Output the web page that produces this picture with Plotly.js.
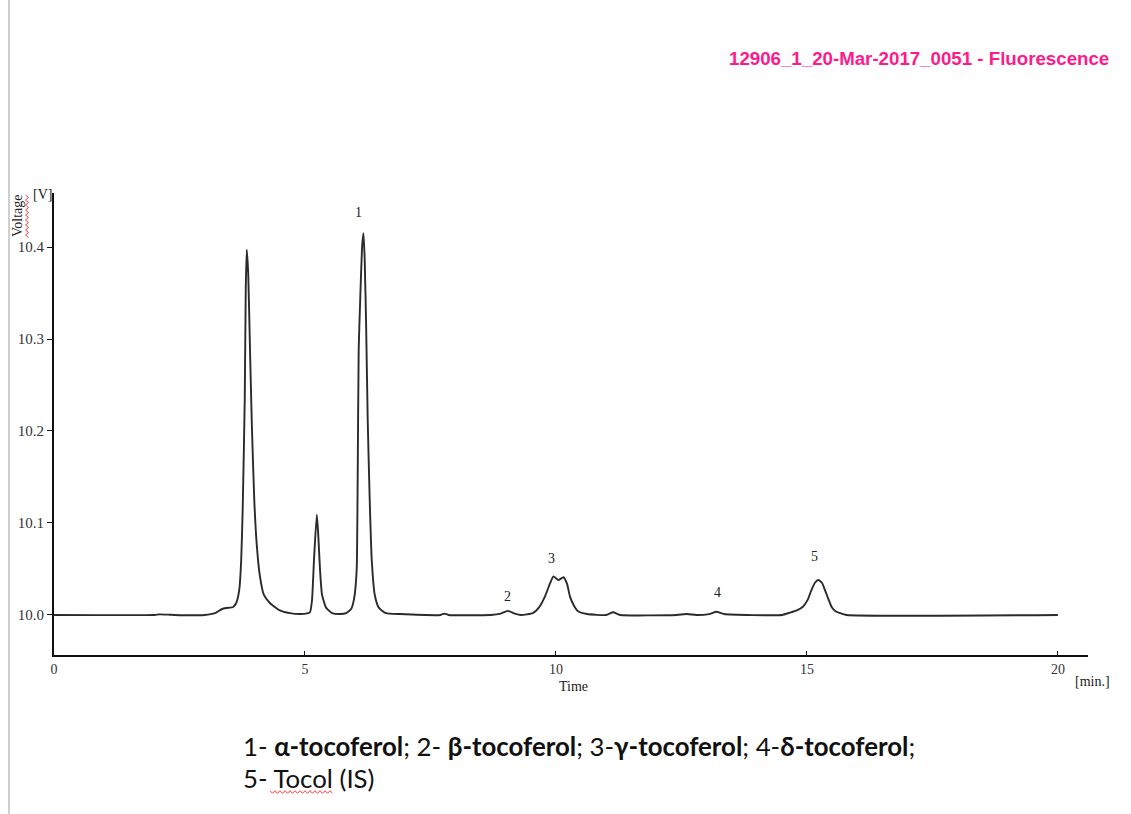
<!DOCTYPE html>
<html>
<head>
<meta charset="utf-8">
<script src="https://cdn.plot.ly/plotly-3.0.1.min.js"></script>
<style>
  html, body { margin: 0; padding: 0; background: #fff; }
  #chart { width: 1131px; height: 814px; }
</style>
</head>
<body>
<div id="chart"></div>
<script>
// ---- data ----
const timeMin = [
  0, 2.0, 2.1, 2.3, 2.4, 3.0, 3.21, 3.35, 3.43, 3.57, 3.63, 3.69, 3.73, 3.76, 3.80, 3.82,
  3.84, 3.87, 3.90, 3.94, 3.99, 4.04, 4.10, 4.18, 4.30, 4.50, 4.70, 4.90, 5.06,
  5.10, 5.14, 5.18, 5.235, 5.26, 5.30, 5.34, 5.42, 5.54, 5.70,
  5.82, 5.92, 5.98, 6.03, 6.05, 6.07, 6.10, 6.14, 6.165, 6.19, 6.22, 6.25, 6.29, 6.33, 6.39,
  6.47, 6.61, 6.89, 7.7, 7.78, 7.86, 8.7, 8.9, 9.04, 9.18, 9.3,
  9.54, 9.66, 9.78, 9.88, 9.95, 10.05, 10.15, 10.22, 10.28, 10.36, 10.44, 10.62,
  11.0, 11.14, 11.28, 12.4, 12.6, 12.8, 13.05, 13.2, 13.35,
  14.5, 14.66, 14.8, 14.92, 15.02, 15.09, 15.16, 15.23, 15.30, 15.36, 15.43, 15.49, 15.57,
  15.66, 15.79, 20.0
];
const voltage = [
  10.000, 10.000, 10.0007, 10.0003, 10.000, 10.000, 10.002, 10.0065, 10.0076, 10.0087, 10.013, 10.027, 10.060, 10.117, 10.234, 10.353,
  10.397, 10.370, 10.300, 10.210, 10.125, 10.076, 10.043, 10.022, 10.013, 10.005, 10.002, 10.001, 10.002,
  10.003, 10.016, 10.060, 10.109, 10.092, 10.049, 10.022, 10.008, 10.002, 10.001,
  10.002, 10.0065, 10.018, 10.049, 10.147, 10.288, 10.342, 10.402, 10.415, 10.386, 10.310, 10.212, 10.125, 10.060, 10.022,
  10.008, 10.002, 10.001, 10.000, 10.0015, 10.000, 10.000, 10.0015, 10.0045, 10.0015, 10.000,
  10.002, 10.008, 10.020, 10.034, 10.042, 10.038, 10.041, 10.034, 10.020, 10.010, 10.004, 10.001,
  10.000, 10.003, 10.000, 10.000, 10.001, 10.000, 10.001, 10.0035, 10.001,
  10.000, 10.0025, 10.005, 10.009, 10.017, 10.027, 10.035, 10.038, 10.035, 10.027, 10.017, 10.009, 10.004,
  10.002, 10.000, 10.000
];
const peakLabels = ["1", "2", "3", "4", "5"];
const peakLabelTimes = [6.06, 9.04, 9.92, 13.21, 15.16];
const peakLabelVoltages = [10.438, 10.0196, 10.061, 10.024, 10.064];
const yTickValues = [10.0, 10.1, 10.2, 10.3, 10.4];
const yTickLabels = ["10.0", "10.1", "10.2", "10.3", "10.4"];
const xTickValues = [0, 5, 10, 15, 20];
const xTickLabels = ["0", "5", "10", "15", "20"];
const chartTitle = "12906_1_20-Mar-2017_0051 - Fluorescence";
const captionLine1 = "1- <b>α-tocoferol</b>; 2- <b>β-tocoferol</b>; 3-<b>γ-tocoferol</b>; 4-<b>δ-tocoferol</b>;";
const captionLine2 = "5- Tocol (IS)";

// ---- layout helpers (pixel -> paper) ----
const W = 1131, H = 814;
const M = { l: 54, r: 43, t: 193, b: 159 };
const PW = W - M.l - M.r, PH = H - M.t - M.b;
const px = x => (x - M.l) / PW;
const py = y => (H - M.b - y) / PH;

function zigzag(x0, x1, y, amp, step, vertical) {
  let d = "";
  let i = 0;
  for (let p = x0; p <= x1 + 0.01; p += step, i++) {
    const off = (i % 2 === 0) ? -amp : amp;
    let X, Y;
    if (vertical) { X = px(y + off); Y = py(p); } else { X = px(p); Y = py(y + off); }
    d += (i === 0 ? "M " : " L ") + X.toFixed(5) + "," + Y.toFixed(5);
  }
  return d;
}

const serif = "Liberation Serif, Times New Roman, serif";

const annotations = peakLabels.map((t, i) => ({
  x: peakLabelTimes[i], y: peakLabelVoltages[i], xref: "x", yref: "y",
  xanchor: "center", yanchor: "middle",
  text: t, showarrow: false, font: { family: serif, size: 14, color: "#222" }
}));

function note(x, y, text, font, xanchor, extra) {
  return Object.assign({
    xref: "paper", yref: "paper", x: px(x), y: py(y), text: text,
    xanchor: xanchor || "center", yanchor: "middle", showarrow: false, font: font
  }, extra || {});
}
const small = { family: serif, size: 14, color: "#222" };
const captionFont = { family: "Lato, Noto Sans, sans-serif", size: 25.8, color: "#111" };

annotations.push(
  note(17, 216, "Voltage", small, "center", { textangle: -90 }),
  note(42, 194, "[V]", small),
  note(573, 686, "Time", small),
  note(1092, 681, "[min.]", small),
  note(1111, 58, "<b>" + chartTitle + "</b>",
       { family: "Liberation Sans, Arial, sans-serif", size: 18.7, color: "#ff1a8c" }, "right"),
  note(241, 746, captionLine1, captionFont, "left"),
  note(241, 778, captionLine2, captionFont, "left")
);

const shapes = [
  { type: "line", xref: "paper", yref: "paper", x0: px(9), x1: px(9), y0: py(0), y1: py(814),
    line: { color: "#cfcfcf", width: 2 } },
  { type: "path", xref: "paper", yref: "paper", path: zigzag(195, 238, 27, 1.5, 2.5, true),
    line: { color: "#ff3b3b", width: 1 } },
  { type: "path", xref: "paper", yref: "paper", path: zigzag(270, 334, 792, 1.3, 2.5, false),
    line: { color: "#ff3b3b", width: 1 } }
];

const trace = {
  x: timeMin, y: voltage, type: "scatter", mode: "lines",
  line: { color: "#2a2a2a", width: 1.9, shape: "spline", smoothing: 0.5 },
  hoverinfo: "x+y"
};

const layout = {
  width: W, height: H,
  margin: M,
  paper_bgcolor: "#ffffff", plot_bgcolor: "#ffffff",
  showlegend: false,
  xaxis: {
    range: [0, 20.6], showgrid: false, zeroline: false,
    showline: true, linecolor: "#111", linewidth: 2,
    tickmode: "array", tickvals: xTickValues, ticktext: xTickLabels,
    ticks: "inside", ticklen: 4, tickcolor: "#111",
    tickfont: { family: serif, size: 14, color: "#333" }
  },
  yaxis: {
    range: [9.9565, 10.4587], showgrid: false, zeroline: false,
    showline: true, linecolor: "#111", linewidth: 2,
    tickmode: "array", tickvals: yTickValues, ticktext: yTickLabels,
    ticks: "outside", ticklen: 5, tickcolor: "#111",
    tickfont: { family: serif, size: 15, color: "#333" }
  },
  annotations: annotations,
  shapes: shapes
};

Plotly.newPlot("chart", [trace], layout, { displayModeBar: false, staticPlot: true });
</script>
</body>
</html>
